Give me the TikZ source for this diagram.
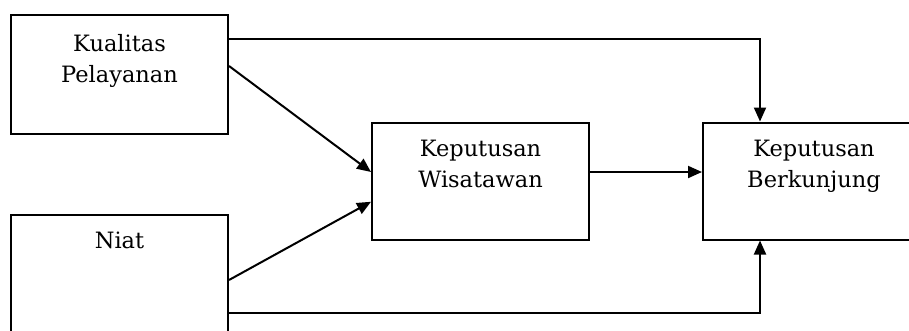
\documentclass[tikz,border=0pt]{standalone}
\usepackage{fontspec}
\setmainfont{DejaVu Serif}
\usetikzlibrary{arrows.meta}
\tikzset{%
  box/.style={draw,rectangle,line width=2pt,minimum width=217pt,minimum height=#1,inner sep=0pt},
  box/.default=117pt,
  boxtext/.style={anchor=north,align=center,inner sep=0pt,yshift=-18pt,
    font=\fontsize{22.5}{31}\selectfont,text=black},
  conn/.style={line width=2pt,-{Triangle[length=14pt,width=12pt]}}
}

\begin{document}
\begin{tikzpicture}[x=1pt,y=-1pt]
  \useasboundingbox (0,0) rectangle (909,330);
  \node[box=119pt,label={[boxtext,yshift=-2pt]north:Kualitas\\Pelayanan}] (kp) at (119.5,74.5) {};
  \node[box=130pt,label={[boxtext]north:Niat}] (ni) at (119.5,280) {};
  \node[box,label={[boxtext]north:Keputusan\\Wisatawan}] (kw) at (480.5,181.75) {};
  \node[box,minimum width=222pt,label={[boxtext]north:Keputusan\\Berkunjung}] (kb) at (814,181) {};
  %%%
  \draw[conn] ([yshift=-25pt]kp.north east) -| ([xshift=-54pt]kb.north);
  \draw[conn] ([yshift=8.5pt]kp.east) -- ([yshift=9.75pt]kw.west);
  \draw[conn] (ni.east) -- ([yshift=-20pt]kw.west);
  \draw[conn] ([yshift=9.75pt]kw.east) -- ([yshift=9.75pt]kw.east -| kb.west);
  \draw[conn] ([yshift=-33pt]ni.east) -| ([xshift=-54pt]kb.south);
\end{tikzpicture}
\end{document}
